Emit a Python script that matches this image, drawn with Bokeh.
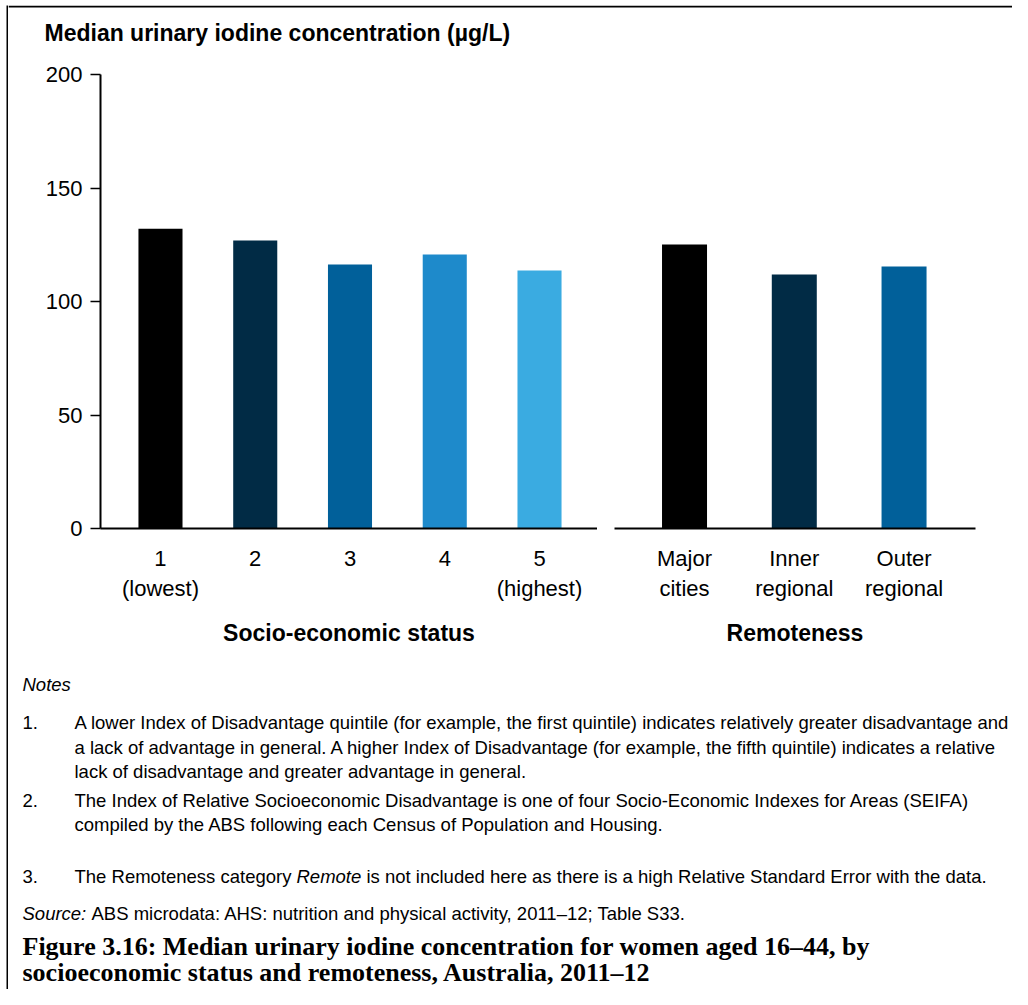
from bokeh.plotting import figure
from bokeh.models import Range1d, FixedTicker, Label, ColumnDataSource, Spacer, BoxAnnotation
from bokeh.layouts import row, column
from bokeh.embed import file_html
from bokeh.resources import INLINE

# ---------------- data ----------------
ses_labels = ["1\n(lowest)", "2", "3", "4", "5\n(highest)"]
ses_values = [132.0, 126.9, 116.3, 120.7, 113.7]
ses_colors = ["#000000", "#012B45", "#01609A", "#1E8ACB", "#3AABE1"]

rem_labels = ["Major\ncities", "Inner\nregional", "Outer\nregional"]
rem_values = [125.1, 111.9, 115.4]
rem_colors = ["#000000", "#012B45", "#01609A"]

y_ticks = [0, 50, 100, 150, 200]
group_names = ["Socio-economic status", "Remoteness"]
chart_title = "Median urinary iodine concentration (µg/L)"

notes_heading = "Notes"
note_numbers = ["1.", "2.", "3."]
note1_lines = [
    "A lower Index of Disadvantage quintile (for example, the first quintile) indicates relatively greater disadvantage and",
    "a lack of advantage in general. A higher Index of Disadvantage (for example, the fifth quintile) indicates a relative",
    "lack of disadvantage and greater advantage in general.",
]
note2_lines = [
    "The Index of Relative Socioeconomic Disadvantage is one of four Socio-Economic Indexes for Areas (SEIFA)",
    "compiled by the ABS following each Census of Population and Housing.",
]
note3_parts = ["The Remoteness category", "Remote", "is not included here as there is a high Relative Standard Error with the data."]
source_parts = ["Source:", "ABS microdata: AHS: nutrition and physical activity, 2011–12; Table S33."]
caption_lines = [
    "Figure 3.16: Median urinary iodine concentration for women aged 16–44, by",
    "socioeconomic status and remoteness, Australia, 2011–12",
]

FONT = "Liberation Sans"
LBL = "22px"
CHART_H = 598


def blank(width, height, fill="white"):
    f = figure(width=width, height=height, output_backend="svg", toolbar_location=None,
               x_axis_location=None, y_axis_location=None,
               x_range=Range1d(0, 1), y_range=Range1d(0, 1),
               min_border=0, min_border_left=0, min_border_right=0,
               min_border_top=0, min_border_bottom=0)
    f.xgrid.visible = False
    f.ygrid.visible = False
    f.outline_line_color = None
    f.background_fill_color = fill
    f.border_fill_color = fill
    return f


def make_chart(width, labels, values, colors, x_start, x_end, bar_w, mb_left, mb_right, show_y, group):
    idx = list(range(len(labels)))
    src = ColumnDataSource(dict(x=idx, top=values, color=colors))
    p = figure(width=width, height=CHART_H,
               x_range=Range1d(x_start, x_end), y_range=Range1d(0, 200),
               output_backend="svg", toolbar_location=None,
               y_axis_location="left" if show_y else None,
               min_border_left=mb_left, min_border_right=mb_right,
               min_border_top=12, min_border_bottom=132)
    p.vbar(x="x", top="top", bottom=0, width=bar_w, fill_color="color",
           line_color=None, source=src)
    p.xgrid.visible = False
    p.ygrid.visible = False
    p.outline_line_color = None

    xa = p.xaxis[0]
    xa.ticker = FixedTicker(ticks=idx)
    xa.major_label_overrides = {i: l for i, l in enumerate(labels)}
    xa.major_tick_line_color = None
    xa.minor_tick_line_color = None
    xa.axis_line_width = 2
    xa.axis_line_color = "black"
    xa.major_label_text_font = FONT
    xa.major_label_text_font_size = LBL
    xa.major_label_text_color = "black"
    xa.major_label_standoff = 11
    xa.major_label_text_line_height = 1.23
    xa.axis_label = group
    xa.axis_label_text_font = FONT
    xa.axis_label_text_font_style = "bold"
    xa.axis_label_text_font_size = "23px"
    xa.axis_label_text_color = "black"
    xa.axis_label_standoff = 16

    if show_y:
        ya = p.yaxis[0]
        ya.ticker = FixedTicker(ticks=y_ticks)
        ya.minor_tick_line_color = None
        ya.major_tick_out = 10
        ya.major_tick_in = 0
        ya.major_tick_line_width = 1.5
        ya.major_tick_line_color = "black"
        ya.axis_line_width = 2
        ya.axis_line_color = "black"
        ya.major_label_text_font = FONT
        ya.major_label_text_font_size = LBL
        ya.major_label_text_color = "black"
        ya.major_label_standoff = 8
    return p


p_ses = make_chart(589, ses_labels, ses_values, ses_colors, -0.633, 4.612, 0.465,
                   92, 0, True, group_names[0])
p_rem = make_chart(415, rem_labels, rem_values, rem_colors, -0.638, 2.651, 0.41,
                   17, 37, False, group_names[1])

# ---------------- title panel (with top edge of the box) ----------------
TW, TH = 1004, 57
OTY = 5
pt = blank(TW, TH)
pt.x_range = Range1d(0, TW)
pt.y_range = Range1d(TH, 0)
pt.add_layout(BoxAnnotation(top=0, bottom=2, fill_color="black", fill_alpha=1.0,
                            line_color=None))
pt.add_layout(Label(x=44 - 8, y=32 - OTY, text=chart_title, text_font=FONT,
                    text_font_size="23px", text_font_style="bold", text_color="black",
                    text_baseline="middle", text_align="left"))

# ---------------- notes panel ----------------
NW, NH = 1004, 329
OX, OY = 8, 660
pn = blank(NW, NH)
pn.x_range = Range1d(0, NW)
pn.y_range = Range1d(NH, 0)


def txt(x, y, s, size, style="normal", font=FONT):
    pn.add_layout(Label(x=x - OX, y=y - OY, text=s, text_font=font,
                        text_font_size=size, text_font_style=style,
                        text_color="black", text_baseline="middle",
                        text_align="left"))


NS = "18.5px"
txt(22, 684, notes_heading, NS, "italic")
for y, s in zip([722, 747, 771], note1_lines):
    txt(74, y, s, NS)
txt(22, 722, note_numbers[0], NS)
for y, s in zip([800, 824], note2_lines):
    txt(74, y, s, NS)
txt(22, 800, note_numbers[1], NS)
txt(22, 876, note_numbers[2], NS)
txt(74, 876, note3_parts[0], NS)
txt(296, 876, note3_parts[1], NS, "italic")
txt(366, 876, note3_parts[2], NS)
txt(22, 913, source_parts[0], NS, "italic")
txt(91, 913, source_parts[1], NS)
txt(22, 946, caption_lines[0], "26px", "bold", "Liberation Serif")
txt(22, 972, caption_lines[1], "26px", "bold", "Liberation Serif")

# ---------------- left edge of the box ----------------
edge_v = blank(2, 984, "black")

inner = column(pt, row(p_ses, p_rem), pn)
layout = column(Spacer(width=1012, height=5),
                row(Spacer(width=6, height=984), edge_v, inner))

open("out.html", "w").write(file_html(layout, INLINE))
